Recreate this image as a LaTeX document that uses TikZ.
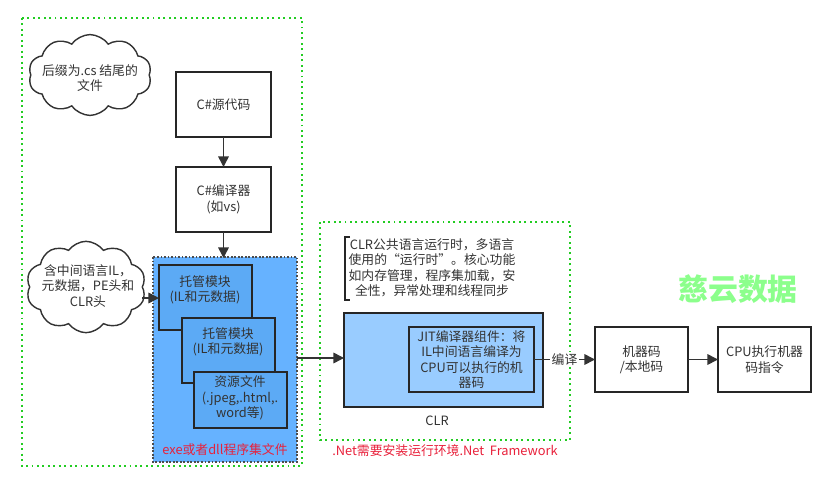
\documentclass[tikz,border=0pt]{standalone}
\usepackage{fontspec}
\setmainfont{Noto Sans CJK SC}
\usetikzlibrary{shapes.symbols,arrows.meta}
\definecolor{asmblue}{HTML}{66B2FF}
\definecolor{modblue}{HTML}{5CAAF5}
\definecolor{clrblue}{HTML}{99CCFF}
\definecolor{zoneline}{HTML}{22CC22}
\definecolor{labelred}{HTML}{E8203A}
\begin{document}
\begin{tikzpicture}[x=0.02cm,y=-0.02cm,
    every node/.style={font=\fontsize{7.3}{8.8}\selectfont,align=center,text=black!80},
    box/.style={draw=black!85,line width=0.9pt,fill=white},
    zone/.style={draw=zoneline,dotted,line width=1.1pt},
    arr/.style={-{Triangle[length=6pt,width=6pt]},draw=black!80,line width=0.9pt},
    sky/.style={cloud,draw=black!80,line width=0.8pt,fill=white,cloud puffs=10,cloud puff arc=110,inner sep=0pt}]
    \useasboundingbox (0,0) rectangle (834,500);
    % zones
    \draw[zone] (22,18) rectangle (302,466);
    \draw[zone] (320,222) rectangle (570,440);
    \node[text=labelred] (netlbl) at (445,451) {.Net需要安装运行环境.Net\ \ Framework};
    % left column
    \node[sky,minimum width=70pt,minimum height=46pt] (srccloud) at (90,75) {};
    \node (srctxt) at (90,78) {后缀为.cs 结尾的\\文件};
    \draw[box] (176,72) rectangle (271,137);
    \node (src) at (223.5,104.5) {C\#源代码};
    \draw[box] (176,167) rectangle (271,232);
    \node (csc) at (223.5,199.5) {C\#编译器\\(如vs)};
    \coordinate (srcbot) at (223.5,137);
    \coordinate (csctop) at (223.5,167);
    \draw[arr] (srcbot) -- (csctop);
    % assembly
    \draw[fill=asmblue,draw=black!70,densely dotted,line width=1pt] (153,257) rectangle (297,462);
    \node[text=labelred] (asmlbl) at (225,450) {exe或者dll程序集文件};
    \draw[box,fill=modblue] (159,265) rectangle (252,330);
    \node (modA) at (205,290) {托管模块\\(IL和元数据)};
    \draw[box,fill=modblue] (182,318) rectangle (275,383);
    \node (modB) at (228,342) {托管模块\\(IL和元数据)};
    \draw[box,fill=modblue] (194,372) rectangle (287,428);
    \node (res) at (240,398) {资源文件\\(.jpeg,.html,.\\word等)};
    \coordinate (cscbot) at (223.5,232);
    \coordinate (asmtop) at (223.5,258);
    \draw[arr] (cscbot) -- (asmtop);
    \node[sky,minimum width=68pt,minimum height=52pt] (ilcloud) at (86,287) {};
    \node (iltxt) at (88,286) {含中间语言IL，\\元数据，PE头和\\CLR头};
    \coordinate (cloudout) at (142,298);
    \coordinate (modAin) at (159,298);
    \draw[arr] (cloudout) -- (modAin);
    % CLR
    \draw[black!85,line width=0.9pt] (350,237) -- (345,237) -- (345,300) -- (350,300);
    \node (clrnote) at (432,268) {CLR公共语言运行时，多语言\\使用的“运行时”。核心功能\\如内存管理，程序集加载，安\\全性，异常处理和线程同步};
    \draw[box,fill=clrblue] (344,313) rectangle (543,407);
    \node (clrlbl) at (437,421) {CLR};
    \draw[box,fill=clrblue,line width=1.3pt] (409,327) rectangle (534,392);
    \node (jit) at (471.5,359.5) {JIT编译器组件：将\\IL中间语言编译为\\CPU可以执行的机\\器码};
    \coordinate (asmout) at (297,358);
    \coordinate (clrin) at (344,358);
    \draw[arr] (asmout) -- (clrin);
    % output
    \draw[box] (595,327) rectangle (688,392);
    \node (mcode) at (641.5,359.5) {机器码\\/本地码};
    \draw[box] (718,327) rectangle (811,392);
    \node (cpu) at (764.5,359.5) {CPU执行机器\\码指令};
    \coordinate (jitout) at (534,359.5);
    \coordinate (mcodein) at (595,359.5);
    \draw[arr] (jitout) -- node[fill=white,inner sep=1pt] {编译} (mcodein);
    \coordinate (mcodeout) at (688,359.5);
    \coordinate (cpuin) at (718,359.5);
    \draw[arr] (mcodeout) -- (cpuin);
    % watermark
    \node[text=green!45,font=\fontsize{17}{20}\selectfont\bfseries] (mark) at (738,289) {慈云数据};
\end{tikzpicture}
\end{document}
